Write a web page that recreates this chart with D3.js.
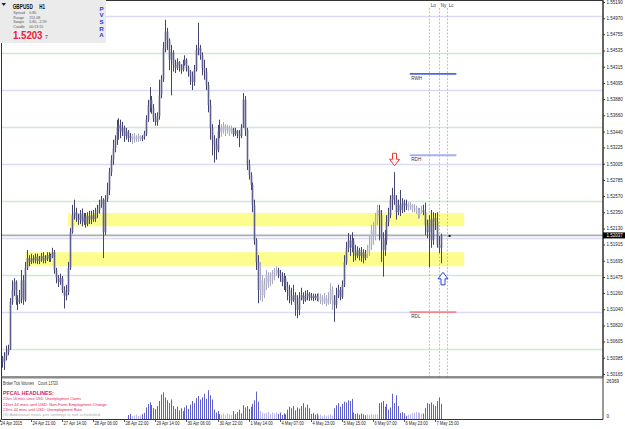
<!DOCTYPE html>
<html><head><meta charset="utf-8">
<script src="https://d3js.org/d3.v7.min.js"></script>
<style>
html,body{margin:0;padding:0;background:#fff;}
svg{display:block;}
text{font-family:"Liberation Sans",Arial,sans-serif;}
</style></head><body>
<svg id="chart" width="625" height="429"></svg>
<script>
// ---------------- DATA ----------------
const symbol = "GBPUSD", timeframe = "H1";
const firstOpen = 1.5033;
const closes = [
1.5038,1.5033,1.5040,1.5046,1.5050,1.5114,1.5130,1.5141,1.5116,1.5114,
1.5119,1.5143,1.5116,1.5160,1.5173,1.5168,1.5173,1.5170,1.5175,1.5169,
1.5172,1.5176,1.5170,1.5173,1.5177,1.5172,1.5175,1.5181,1.5157,1.5146,
1.5141,1.5146,1.5130,1.5122,1.5127,1.5160,1.5208,1.5231,1.5235,1.5227,
1.5225,1.5233,1.5222,1.5229,1.5219,1.5230,1.5225,1.5231,1.5226,1.5234,
1.5238,1.5245,1.5252,1.5208,1.5252,1.5265,1.5289,1.5306,1.5322,1.5333,
1.5349,1.5353,1.5344,1.5349,1.5338,1.5344,1.5335,1.5338,1.5333,1.5337,
1.5334,1.5338,1.5334,1.5337,1.5341,1.5360,1.5380,1.5387,1.5376,1.5362,
1.5357,1.5365,1.5393,1.5414,1.5457,1.5479,1.5468,1.5441,1.5451,1.5434,
1.5430,1.5438,1.5433,1.5427,1.5435,1.5441,1.5430,1.5425,1.5419,1.5411,
1.5427,1.5454,1.5457,1.5447,1.5430,1.5425,1.5407,1.5380,1.5349,1.5333,
1.5326,1.5319,1.5344,1.5349,1.5344,1.5352,1.5346,1.5349,1.5344,1.5348,
1.5341,1.5345,1.5341,1.5338,1.5349,1.5387,1.5346,1.5299,1.5285,1.5272,
1.5245,1.5197,1.5168,1.5130,1.5143,1.5123,1.5137,1.5149,1.5141,1.5146,
1.5152,1.5154,1.5157,1.5152,1.5149,1.5141,1.5146,1.5135,1.5130,1.5122,
1.5116,1.5123,1.5110,1.5103,1.5119,1.5123,1.5116,1.5122,1.5125,1.5119,
1.5122,1.5119,1.5122,1.5118,1.5121,1.5116,1.5114,1.5119,1.5112,1.5116,
1.5130,1.5116,1.5110,1.5123,1.5130,1.5121,1.5137,1.5168,1.5187,1.5197,
1.5187,1.5197,1.5181,1.5176,1.5184,1.5176,1.5181,1.5173,1.5179,1.5184,
1.5191,1.5211,1.5203,1.5225,1.5238,1.5231,1.5200,1.5184,1.5197,1.5222,
1.5231,1.5252,1.5258,1.5252,1.5235,1.5245,1.5238,1.5248,1.5244,1.5246,
1.5242,1.5245,1.5240,1.5241,1.5237,1.5231,1.5235,1.5238,1.5235,1.5218,
1.5208,1.5225,1.5197,1.5227,1.5222,1.5191,1.5187,1.52037];
const highs = [
1.5042,1.5041,1.5046,1.5055,1.5056,1.5119,1.5143,1.5146,1.5143,1.5123,
1.5130,1.5157,1.5150,1.5168,1.5184,1.5177,1.5179,1.5177,1.5179,1.5179,
1.5176,1.5180,1.5181,1.5177,1.5181,1.5181,1.5179,1.5187,1.5184,1.5160,
1.5150,1.5152,1.5149,1.5135,1.5137,1.5168,1.5214,1.5245,1.5252,1.5241,
1.5233,1.5238,1.5240,1.5234,1.5234,1.5235,1.5237,1.5237,1.5238,1.5241,
1.5245,1.5252,1.5257,1.5254,1.5258,1.5275,1.5295,1.5312,1.5333,1.5339,
1.5360,1.5362,1.5360,1.5357,1.5352,1.5349,1.5346,1.5342,1.5341,1.5342,
1.5339,1.5341,1.5339,1.5339,1.5345,1.5366,1.5387,1.5404,1.5392,1.5381,
1.5369,1.5370,1.5414,1.5420,1.5465,1.5495,1.5484,1.5470,1.5461,1.5454,
1.5441,1.5443,1.5439,1.5435,1.5441,1.5447,1.5443,1.5433,1.5427,1.5425,
1.5434,1.5461,1.5491,1.5461,1.5451,1.5441,1.5430,1.5411,1.5387,1.5354,
1.5339,1.5335,1.5353,1.5360,1.5354,1.5357,1.5354,1.5353,1.5352,1.5352,
1.5349,1.5349,1.5346,1.5346,1.5354,1.5396,1.5392,1.5349,1.5306,1.5289,
1.5275,1.5252,1.5200,1.5177,1.5168,1.5150,1.5146,1.5157,1.5154,1.5154,
1.5157,1.5160,1.5162,1.5160,1.5157,1.5154,1.5153,1.5149,1.5141,1.5137,
1.5133,1.5137,1.5127,1.5123,1.5127,1.5133,1.5127,1.5129,1.5130,1.5127,
1.5126,1.5125,1.5125,1.5125,1.5126,1.5125,1.5123,1.5126,1.5123,1.5127,
1.5139,1.5135,1.5123,1.5133,1.5137,1.5134,1.5143,1.5177,1.5195,1.5207,
1.5204,1.5208,1.5200,1.5191,1.5189,1.5187,1.5188,1.5185,1.5184,1.5191,
1.5204,1.5218,1.5222,1.5234,1.5245,1.5245,1.5238,1.5208,1.5211,1.5231,
1.5241,1.5258,1.5268,1.5289,1.5258,1.5252,1.5265,1.5254,1.5252,1.5252,
1.5249,1.5249,1.5246,1.5246,1.5244,1.5241,1.5241,1.5244,1.5245,1.5248,
1.5225,1.5231,1.5238,1.5235,1.5234,1.5235,1.5203,1.5206];
const lows = [
1.5029,1.5025,1.5022,1.5035,1.5042,1.5049,1.5110,1.5122,1.5110,1.5103,
1.5111,1.5112,1.5110,1.5114,1.5157,1.5162,1.5165,1.5166,1.5166,1.5165,
1.5165,1.5168,1.5166,1.5166,1.5169,1.5168,1.5168,1.5173,1.5152,1.5139,
1.5134,1.5137,1.5126,1.5105,1.5116,1.5123,1.5157,1.5206,1.5225,1.5222,
1.5218,1.5219,1.5216,1.5218,1.5214,1.5216,1.5219,1.5219,1.5222,1.5222,
1.5227,1.5233,1.5241,1.5173,1.5204,1.5249,1.5258,1.5284,1.5299,1.5316,
1.5326,1.5333,1.5335,1.5338,1.5330,1.5333,1.5330,1.5330,1.5327,1.5329,
1.5330,1.5330,1.5331,1.5331,1.5333,1.5338,1.5357,1.5370,1.5368,1.5357,
1.5352,1.5352,1.5360,1.5389,1.5411,1.5451,1.5454,1.5427,1.5393,1.5425,
1.5423,1.5427,1.5425,1.5422,1.5425,1.5433,1.5425,1.5418,1.5407,1.5400,
1.5406,1.5425,1.5447,1.5441,1.5420,1.5414,1.5400,1.5370,1.5333,1.5312,
1.5302,1.5306,1.5316,1.5335,1.5337,1.5341,1.5338,1.5341,1.5338,1.5341,
1.5337,1.5338,1.5335,1.5323,1.5335,1.5349,1.5338,1.5292,1.5279,1.5265,
1.5235,1.5191,1.5157,1.5112,1.5116,1.5114,1.5119,1.5130,1.5133,1.5135,
1.5138,1.5143,1.5149,1.5146,1.5141,1.5135,1.5130,1.5127,1.5116,1.5112,
1.5110,1.5114,1.5095,1.5092,1.5096,1.5116,1.5111,1.5114,1.5116,1.5115,
1.5116,1.5115,1.5116,1.5115,1.5114,1.5111,1.5110,1.5111,1.5108,1.5110,
1.5111,1.5103,1.5087,1.5105,1.5119,1.5116,1.5118,1.5134,1.5164,1.5181,
1.5176,1.5181,1.5168,1.5170,1.5173,1.5170,1.5168,1.5166,1.5170,1.5173,
1.5176,1.5184,1.5191,1.5197,1.5218,1.5197,1.5168,1.5148,1.5176,1.5191,
1.5216,1.5227,1.5238,1.5245,1.5225,1.5231,1.5230,1.5234,1.5235,1.5238,
1.5237,1.5238,1.5235,1.5235,1.5233,1.5226,1.5227,1.5233,1.5231,1.5204,
1.5200,1.5161,1.5187,1.5191,1.5211,1.5187,1.5180,1.5166];
// tick volumes of the bars visible in the volume window (from bar volStart on)
const volStart = 66;
const volumes = [
2800,3500,2100,2400,3100,2000,2600,3400,4200,
8000,10400,11500,9700,7600,6800,9000,
12500,17000,18500,15000,13000,
11000,13500,9000,7000,8500,6000,7500,5500,8000,9500,7000,
10000,12500,11000,14500,16000,13500,15000,
17500,14000,20000,16500,13500,
6500,4500,5500,3500,
3000,3800,2500,4000,3400,2800,
5500,3500,4800,6500,4000,
9500,8000,9000,7000,8500,
10500,13000,19000,12000,
5500,4500,3800,4200,5000,3500,4600,3900,4400,
3500,4500,2800,4000,3200,
6500,8500,7500,9000,6000,8000,7200,
9000,11000,8000,10000,7500,
3500,4200,3000,3800,
2500,3000,2000,2800,2200,2600,3300,2400,
7500,9500,11000,8500,10500,12000,11500,
13000,12500,14000,
4500,3500,4000,3000,3800,3200,2600,
3200,2800,3500,3000,3300,2900,
11000,11500,12500,8500,10500,6500,8000,17500,11000,16500,9000,
4200,4800,4000,2200,
3000,3500,4200,4400,4800,4600,4200,3600,
3800,7500,11000,10500,11500,10000,9000,12500,15000,10500];
const volMax = 26369;
// low-volume (PVSRA "normal") bar ranges
const lightRanges = [[68,72],[114,119],[134,142],[164,171],[189,194],[210,217]];
const priceTicks = [1.55190,1.54970,1.54755,1.54535,1.54315,1.54095,1.53880,1.53660,1.53440,1.53225,1.53005,1.52785,1.52570,1.52350,1.52130,1.51915,1.51695,1.51475,1.51260,1.51040,1.50820,1.50605,1.50385,1.50165];
const timeLabels = ["24 Apr 2015","24 Apr 21:00","27 Apr 14:00","28 Apr 06:00","28 Apr 22:00","29 Apr 14:00","30 Apr 06:00","30 Apr 22:00","1 May 14:00","4 May 07:00","4 May 23:00","5 May 15:00","6 May 07:00","6 May 23:00","7 May 15:00"];
const timeLabelEvery = 16;
const roundLevels = [1.5050,1.5100,1.5150,1.5200,1.5250,1.5300,1.5350,1.5400,1.5450,1.5500];
const zoneNames = ["upper","lower"];
const zoneTop = [1.5234,1.5181];
const zoneBottom = [1.5216,1.5162];
const zoneStartBar = [35,13];
const zoneEndBar = 239;
const levelNames = ["RWH","RDH","RDL"];
const levelPrices = [1.5422,1.5312,1.5100];
const sessionNames = ["Lo","Ny","Lc"];
const sessionBars = [221,226,230];
const currentPrice = 1.52037;
const arrowDownBar = 203, arrowUpBar = 227;
const infoLabels = ["Spread","Range","Swaps","Candle"];
const infoValues = ["0.80","151.08","0.80, -2.59","00:13:15"];
const newsTitle = "PFCAL HEADLINES:";
const newsLines = ["21hrs 16 mins since USD: Unemployment Claims","21hrs 44 mins until USD: Non-Farm Employment Change","21hrs 44 mins until USD: Unemployment Rate"];
const newsNote = "(4) Additional news per settings is not scheduled";
const volTitle = "Broker Tick Volumes", volCount = "Count  13720";

// ---------------- DRAW ----------------
const svg = d3.select("#chart");
const bars = closes.map((c,i)=>{const o=i?closes[i-1]:firstOpen;return {i,o,c,h:Math.max(highs[i],o,c),l:Math.min(lows[i],o,c)};});
const isLight = i => lightRanges.some(([a,b])=>i>=a&&i<=b);

const x = d3.scaleLinear().domain([0,227]).range([0,227*1.942]);
const y = d3.scaleLinear().domain([1.50165,1.55190]).range([374,2]);
const yv = d3.scaleLinear().domain([0,volMax]).range([419,381]);
const px = v => Math.round(x(v))+0.5;

const L = 1.5, R = 603, T = 0.5, B = 377;
svg.append("rect").attr("width",625).attr("height",429).attr("fill","#fff");
const defs = svg.append("defs");
defs.append("clipPath").attr("id","mc").append("rect").attr("x",L).attr("y",T).attr("width",R-L).attr("height",B-T);
defs.append("clipPath").attr("id","vc").append("rect").attr("x",L).attr("y",379).attr("width",R-L).attr("height",40);

// text helper: optional target width obtained by horizontal scaling
const tx = (t,xx,yy,fs,fill,w,len,parent)=>{
  const e=(parent||svg).append("text").attr("x",0).attr("y",0).attr("font-size",fs).attr("fill",fill).attr("font-weight",w||"normal").text(t);
  let s=1; if(len){const nw=e.node().getComputedTextLength(); if(nw>0) s=len/nw;}
  e.attr("transform",`translate(${xx},${yy}) scale(${s},1)`); return e;};

const main = svg.append("g").attr("clip-path","url(#mc)");
// round number grid
main.selectAll("line.rl").data(roundLevels).join("line")
  .attr("x1",L).attr("x2",R).attr("y1",d=>Math.round(y(d))+0.5).attr("y2",d=>Math.round(y(d))+0.5)
  .attr("stroke",d=>Math.abs(d*100-Math.round(d*100))<1e-6?"#dadaf5":"#cdebcd").attr("stroke-width",1.4);
// yellow zones
main.selectAll("rect.zone").data(zoneNames).join("rect")
  .attr("x",(d,i)=>x(zoneStartBar[i])).attr("width",(d,i)=>x(zoneEndBar)-x(zoneStartBar[i]))
  .attr("y",(d,i)=>y(zoneTop[i])).attr("height",(d,i)=>y(zoneBottom[i])-y(zoneTop[i]))
  .attr("fill","#fdfd8e");
// current price line
main.append("line").attr("x1",L).attr("x2",R).attr("y1",y(currentPrice)).attr("y2",y(currentPrice))
  .attr("stroke","#a9b0b0").attr("stroke-width",1.6);
// session lines
main.selectAll("line.ses").data(sessionBars).join("line")
  .attr("x1",d=>px(d)).attr("x2",d=>px(d)).attr("y1",8).attr("y2",B)
  .attr("stroke","#b4b4b4").attr("stroke-width",0.8).attr("stroke-dasharray","2,1.5");
sessionNames.forEach((d,i)=>tx(d,px(sessionBars[i])+1.2,6.5,4.6,"#3a3a5a",null,null,main));
// candles
const cg = main.append("g");
cg.selectAll("line").data(bars).join("line")
  .attr("x1",d=>px(d.i)).attr("x2",d=>px(d.i)).attr("y1",d=>y(d.h)).attr("y2",d=>y(d.l))
  .attr("stroke",d=>isLight(d.i)?"#a8a8c2":"#44446f").attr("stroke-width",1);
cg.selectAll("rect").data(bars).join("rect")
  .attr("x",d=>px(d.i)-0.8).attr("width",1.6)
  .attr("y",d=>y(Math.max(d.o,d.c))).attr("height",d=>Math.max(0.8,Math.abs(y(d.o)-y(d.c))))
  .attr("fill",d=>isLight(d.i)?"#b4b4ca":"#5e5e8e");
// daily / weekly levels
const lvlColors = ["#4a68e0","#a8b0ec","#f08a8a"];
main.selectAll("line.lvl").data(levelPrices).join("line")
  .attr("x1",x(211)).attr("x2",x(235)).attr("y1",d=>y(d)).attr("y2",d=>y(d))
  .attr("stroke",(d,i)=>lvlColors[i]).attr("stroke-width",1.8);
levelNames.forEach((d,i)=>tx(d,x(211)+1.5,y(levelPrices[i])+6,4.6,"#334",null,null,main));
// arrows
const downPts = [[-2,0],[2,0],[2,6],[5,6],[0,12.5],[-5,6],[-2,6]];
const ad = bars[arrowDownBar];
main.append("polygon").attr("points",downPts.map(p=>[px(ad.i)+p[0],y(ad.h)-19+p[1]].join(",")).join(" "))
  .attr("fill","#fff3f3").attr("stroke","#e83a3a").attr("stroke-width",1);
const au = bars[arrowUpBar];
main.append("polygon").attr("points",downPts.map(p=>[px(au.i)+1.5+p[0],y(au.l)+21.5-p[1]].join(",")).join(" "))
  .attr("fill","#fff").attr("stroke","#2244e6").attr("stroke-width",1);
// bid marker dot
main.append("rect").attr("x",x(231)).attr("y",y(currentPrice)-0.5).attr("width",2).attr("height",2).attr("fill","#111");

// ---------- volume panel ----------
const vg = svg.append("g").attr("clip-path","url(#vc)");
vg.selectAll("line").data(volumes).join("line")
  .attr("x1",(d,k)=>px(volStart+k)).attr("x2",(d,k)=>px(volStart+k))
  .attr("y1",419).attr("y2",d=>yv(d))
  .attr("stroke",(d,k)=>isLight(volStart+k)?"#b8b8ee":"#5f5fc9").attr("stroke-width",1);
tx(volTitle,3,384.8,4.6,"#333",null,31);
tx(volCount,38,384.8,4.6,"#333",null,20);
tx(newsTitle,3,394.5,5,"#e0204c","bold",51);
const newsLen = [78,104,79];
newsLines.forEach((t,k)=>tx(t,3,400.3+k*5.2,4.4,"#e8185a",null,newsLen[k]));
tx(newsNote,3,416.2,4.4,"#b0b0b0",null,97);

// ---------- frames & axes ----------
svg.append("rect").attr("x",L).attr("y",T).attr("width",R-L).attr("height",B-T).attr("fill","none").attr("stroke","#333").attr("stroke-width",1);
svg.append("line").attr("x1",L).attr("x2",R).attr("y1",B+0.5).attr("y2",B+0.5).attr("stroke","#8a8a8a").attr("stroke-width",2);
svg.append("line").attr("x1",R).attr("x2",R).attr("y1",T).attr("y2",419.5).attr("stroke","#333");
svg.append("line").attr("x1",L).attr("x2",R).attr("y1",419.5).attr("y2",419.5).attr("stroke","#333");
svg.append("line").attr("x1",L).attr("x2",L).attr("y1",B).attr("y2",419.5).attr("stroke","#333");

const ya = svg.append("g").attr("transform",`translate(${R},0)`)
  .call(d3.axisRight(y).tickValues(priceTicks).tickSize(2).tickFormat(d3.format(".5f")));
ya.select(".domain").remove();
ya.selectAll("line").attr("stroke","#333");
ya.selectAll("text").attr("font-size",4.5).attr("fill","#222").attr("x",3.5).attr("font-family","Liberation Sans, Arial, sans-serif");
// current price box
const cy = y(currentPrice);
svg.append("rect").attr("x",R).attr("y",cy-3).attr("width",22).attr("height",6).attr("fill","#000");
tx(d3.format(".5f")(currentPrice),R+3.5,cy+1.6,4.5,"#fff");
// volume axis
tx(d3.format("d")(volMax),R+3.5,382.5,4.5,"#222");
tx("0",R+3.5,418,4.5,"#222");

// time axis
const tg = svg.append("g");
timeLabels.forEach((t,k)=>{
  const b = k*timeLabelEvery, xx = px(b);
  tg.append("line").attr("x1",xx).attr("x2",xx).attr("y1",419.5).attr("y2",422).attr("stroke","#333").attr("stroke-width",0.8);
  const el = tx(t,0,0,4.7,"#222",null,null,tg);
  el.attr("transform",`translate(${k?xx+1:0.5},424.6) scale(0.86,1)`);
});

// ---------- info panel ----------
svg.append("rect").attr("x",0).attr("y",0).attr("width",106).attr("height",43).attr("fill","#ebebeb");
svg.append("polygon").attr("points","1.5,3 6,3 3.75,6").attr("fill","#222");
tx(symbol,12.7,8.8,6.6,"#111","bold",20.2);
tx(timeframe,39.3,8.8,6.6,"#111","bold",5.8);
infoLabels.forEach((t,k)=>{tx(t,13.3,14+k*4.7,3.6,"#555");tx(infoValues[k],29.3,14+k*4.7,3.6,"#555");});
const pstr = d3.format(".5f")(currentPrice);
tx(pstr.slice(0,6),13,39.3,10,"#e8203c","bold",29.5);
tx(pstr.slice(6),45,39.3,5,"#444");
"PVSRA".split("").forEach((ch,k)=>svg.append("text").attr("x",101.5).attr("y",10.5+k*6.7).attr("text-anchor","middle")
  .attr("font-size",6.2).attr("font-weight","bold").attr("fill","#1f3ed0").text(ch));
</script></body></html>
